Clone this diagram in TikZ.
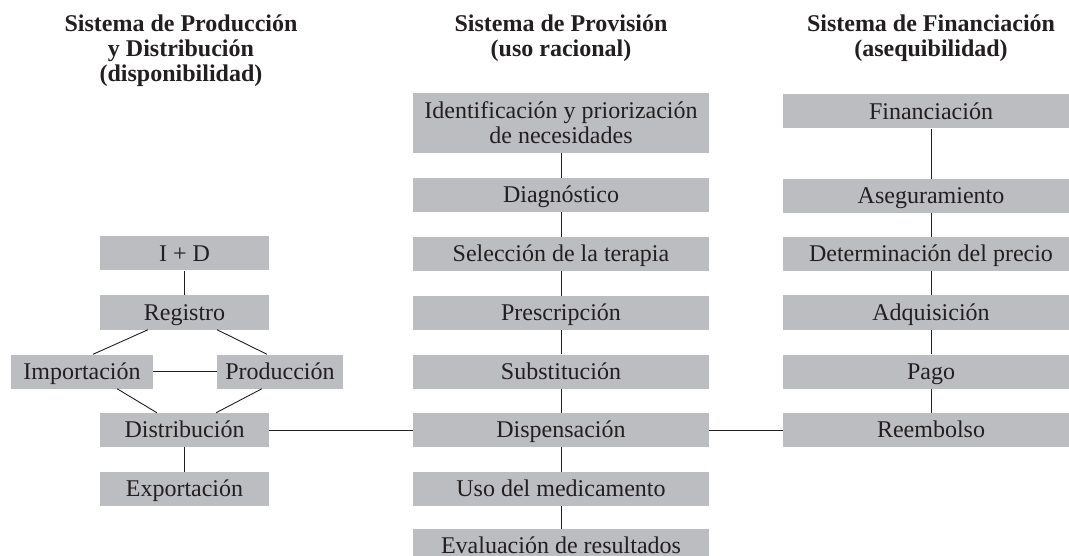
\documentclass[tikz,border=0pt]{standalone}
\usepackage{fontspec}
\setmainfont{Liberation Serif}
\definecolor{boxgray}{RGB}{188,189,192}
\definecolor{ink}{RGB}{35,31,32}
\begin{document}
\begin{tikzpicture}[x=1pt,y=-1pt,
  box/.style={fill=boxgray, inner sep=0pt, minimum height=34pt, text height=16.3pt, text depth=1.2pt, font=\fontsize{24}{25}\selectfont, text=ink},
  wbox/.style={box, minimum width=296pt},
  lbox/.style={box, minimum width=169pt},
  head/.style={font=\fontsize{24}{25}\selectfont\bfseries, align=center, anchor=base, text=ink, inner sep=0pt},
  conn/.style={draw=ink, line width=0.9pt}]
\useasboundingbox (0,0) rectangle (1069,556);
\clip (0,0) rectangle (1069,556);

% headers (anchor = baseline of last line)
\node[head] (h1) at (181,82) {Sistema de Producción\\y Distribución\\(disponibilidad)};
\node[head] (h2) at (561,57) {Sistema de Provisión\\(uso racional)};
\node[head] (h3) at (931,57) {Sistema de Financiación\\(asequibilidad)};

% left column
\node[lbox] (id) at (184.5,253.5) {I + D};
\node[lbox] (reg) at (184.5,312.5) {Registro};
\node[box, minimum width=142pt] (imp) at (82,371.5) {Importación};
\node[box, minimum width=126pt] (prod) at (280,371.5) {Producción};
\node[lbox] (dist) at (184.5,430) {Distribución};
\node[lbox] (exp) at (184.5,489) {Exportación};

% middle column
\node[wbox, minimum height=60pt, align=center, text height=41.3pt, text depth=1.2pt] (ident) at (561,123) {Identificación y priorización\\de necesidades};
\node[wbox] (diag) at (561,195) {Diagnóstico};
\node[wbox] (sel) at (561,254) {Selección de la terapia};
\node[wbox] (pres) at (561,313) {Prescripción};
\node[wbox] (subs) at (561,371.5) {Substitución};
\node[wbox] (disp) at (561,430) {Dispensación};
\node[wbox] (uso) at (561,489) {Uso del medicamento};
\node[wbox] (eval) at (561,546) {Evaluación de resultados};

% right column
\node[wbox] (fin) at (931,111.5) {Financiación};
\node[wbox] (aseg) at (931,196) {Aseguramiento};
\node[wbox] (det) at (931,254) {Determinación del precio};
\node[wbox] (adq) at (931,312.5) {Adquisición};
\node[wbox] (pago) at (931,371.5) {Pago};
\node[wbox] (reem) at (931,430) {Reembolso};

% connectors left
\draw[conn] (id) -- (reg);
\draw[conn] ([xshift=-36.5pt]reg.south) -- ([xshift=11pt]imp.north);
\draw[conn] ([xshift=32.5pt]reg.south) -- ([xshift=-13pt]prod.north);
\draw[conn] (imp) -- (prod);
\draw[conn] ([xshift=35pt]imp.south) -- ([xshift=-27.5pt]dist.north);
\draw[conn] ([xshift=-18pt]prod.south) -- ([xshift=31.5pt]dist.north);
\draw[conn] (dist) -- (exp);

% connectors middle
\draw[conn] (ident) -- (diag);
\draw[conn] (diag) -- (sel);
\draw[conn] (sel) -- (pres);
\draw[conn] (pres) -- (subs);
\draw[conn] (subs) -- (disp);
\draw[conn] (disp) -- (uso);
\draw[conn] (uso) -- (eval);

% connectors right
\draw[conn] (fin) -- (aseg);
\draw[conn] (aseg) -- (det);
\draw[conn] (det) -- (adq);
\draw[conn] (adq) -- (pago);
\draw[conn] (pago) -- (reem);

% cross links
\draw[conn] (dist) -- (disp);
\draw[conn] (disp) -- (reem);
\end{tikzpicture}
\end{document}
